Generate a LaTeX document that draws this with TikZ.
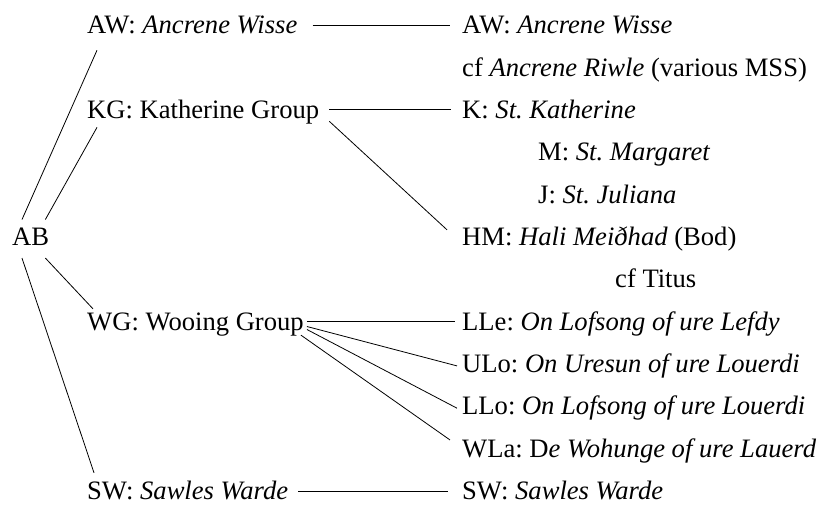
\documentclass[tikz,border=0pt]{standalone}
\usepackage{fontspec}
\setmainfont{Liberation Serif}
\begin{document}
\frenchspacing
\begin{tikzpicture}[x=1pt,y=-1pt,
  lbl/.style={anchor=west,inner sep=0pt,text height=21.2pt,text depth=3.7pt,font=\fontsize{26.6}{30}\selectfont},
  conn/.style={line width=0.8pt,black}]
\useasboundingbox (0,0) rectangle (822,504);
% left column
\node[lbl] (AB)  at (12,236.8) {AB};
\node[lbl] (AWl) at (87,25)    {AW: \textit{Ancrene Wisse}};
\node[lbl] (KGl) at (87,109.7) {KG: Katherine Group};
\node[lbl] (WGl) at (87,321.5) {WG: Wooing Group};
\node[lbl] (SWl) at (87,491)   {SW: \textit{Sawles Warde}};
% right column
\node[lbl] (AWr) at (462,25)    {AW: \textit{Ancrene Wisse}};
\node[lbl] (cfAR) at (462,67.4) {cf \textit{Ancrene Riwle} (various MSS)};
\node[lbl] (K)   at (462,109.7) {K: \textit{St. Katherine}};
\node[lbl] (M)   at (538,152.1) {M: \textit{St. Margaret}};
\node[lbl] (J)   at (538,194.4) {J: \textit{St. Juliana}};
\node[lbl] (HM)  at (462,236.8) {HM: \textit{Hali Meiðhad} (Bod)};
\node[lbl] (cfT) at (615,279.2) {cf Titus};
\node[lbl] (LLe) at (462,321.5) {LLe: \textit{On Lofsong of ure Lefdy}};
\node[lbl] (ULo) at (462,363.9) {ULo: \textit{On Uresun of ure Louerdi}};
\node[lbl] (LLo) at (462,406.2) {LLo: \textit{On Lofsong of ure Louerdi}};
\node[lbl] (WLa) at (462,448.6) {WLa: D\textit{e Wohunge of ure Lauerd}};
\node[lbl] (SWr) at (462,491)   {SW: \textit{Sawles Warde}};
% connectors from AB
\draw[conn] ([xshift=10pt,yshift=4.6pt]AB.north west) -- ([xshift=10pt,yshift=-12.6pt]AWl.south west);
\draw[conn] ([xshift=-4pt,yshift=4.6pt]AB.north east) -- ([xshift=10pt,yshift=-5pt]KGl.south west);
\draw[conn] ([xshift=-4pt,yshift=-8.6pt]AB.south east) -- ([xshift=6pt]WGl.north west);
\draw[conn] ([xshift=10pt,yshift=-8.6pt]AB.south west) -- ([xshift=7pt,yshift=5.6pt]SWl.north west);
% horizontal
\draw[conn] ([xshift=15pt]AWl.east) -- ([xshift=-12pt]AWr.west);
\draw[conn] ([xshift=10pt]KGl.east) -- ([xshift=-11pt]K.west);
\draw[conn] ([xshift=10pt]SWl.east) -- ([xshift=-14pt]SWr.west);
% KG to HM
\draw[conn] ([xshift=10pt,yshift=1pt]KGl.south east) -- ([xshift=-15pt,yshift=7pt]HM.west);
% WG fan
\draw[conn] ([xshift=3pt]WGl.east) -- ([xshift=-7pt]LLe.west);
\draw[conn] ([xshift=3pt,yshift=-5pt]WGl.east) -- ([xshift=-5pt,yshift=-2pt]ULo.west);
\draw[conn] ([xshift=3pt,yshift=-8pt]WGl.east) -- ([xshift=-5pt,yshift=-2pt]LLo.west);
\draw[conn] ([xshift=-3pt,yshift=-1pt]WGl.south east) -- ([xshift=-12pt,yshift=-4pt]WLa.north west);
\end{tikzpicture}
\end{document}
